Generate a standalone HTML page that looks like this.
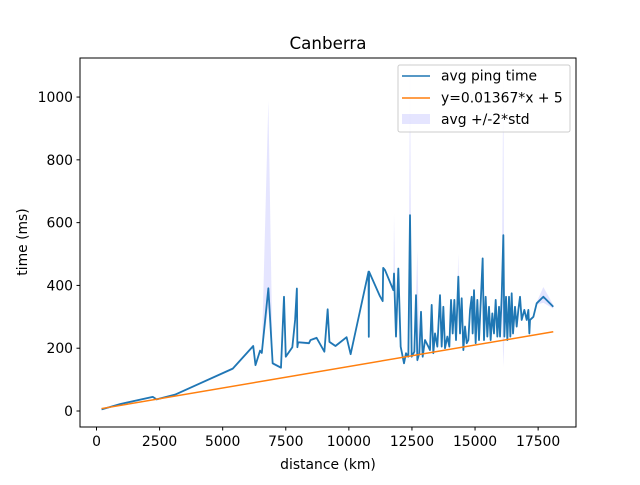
<!DOCTYPE html>
<html><head><meta charset="utf-8"><style>
body{margin:0;background:#fff;}
svg text{font-family:"DejaVu Sans","Liberation Sans",sans-serif;}
</style></head><body>
<svg id="chart" width="640" height="480" viewBox="0 0 640 480" xmlns="http://www.w3.org/2000/svg">
<rect width="640" height="480" fill="#fff"/>
<text x="328" y="49" font-size="16.7" text-anchor="middle">Canberra</text>
<g id="band"></g>
<g id="lines"></g>
<rect x="80" y="58" width="496" height="369" fill="none" stroke="#000" stroke-width="1"/>
<g id="xticks"></g>
<g id="yticks"></g>
<text x="328" y="469" font-size="13.9" text-anchor="middle">distance (km)</text>
<text transform="translate(27,242) rotate(-90)" font-size="13.9" text-anchor="middle">time (ms)</text>
<g>
<rect x="398" y="65" width="172" height="67" rx="2" fill="#fff" fill-opacity="0.8" stroke="#ccc"/>
<line x1="402" y1="76" x2="430" y2="76" stroke="#1f77b4" stroke-width="1.5"/>
<text x="441" y="80.5" font-size="13.9">avg ping time</text>
<line x1="402" y1="98" x2="430" y2="98" stroke="#ff7f0e" stroke-width="1.5"/>
<text x="441" y="102.5" font-size="13.9">y=0.01367*x + 5</text>
<rect x="402" y="114" width="28" height="10" fill="#0000ff" fill-opacity="0.1"/>
<text x="441" y="124" font-size="13.9">avg +/-2*std</text>
</g>
</svg>
<script>
const distances=[200,930,2230,2380,3110,5400,6210,6300,6480,6550,6810,6980,7310,7430,7500,7760,7870,7940,7960,7990,8420,8480,8720,9030,9160,9230,9470,9910,10070,10780,10790,10800,11230,11340,11360,11432,11762,11789,11868,11960,12053,12185,12264,12357,12423,12489,12595,12661,12714,12793,12859,12925,13017,13150,13215,13282,13347,13414,13506,13612,13678,13744,13810,13903,13982,14048,14114,14180,14246,14338,14405,14471,14537,14603,14669,14735,14801,14867,14906,14959,15025,15091,15157,15223,15302,15355,15421,15487,15553,15619,15685,15751,15818,15884,15950,15990,16056,16122,16162,16228,16280,16346,16399,16452,16505,16584,16650,16716,16782,16848,16954,17047,17113,17153,17179,17312,17443,17707,18100];
const avgPing=[5,22,45,37,52,135,207,146,192,185,391,152,138,364,173,203,290,390,203,219,216,226,233,189,324,220,207,235,181,444,236,444,366,350,456,449,385,438,237,454,205,152,184,173,624,173,189,369,162,184,316,173,226,205,194,338,184,247,205,369,205,332,200,237,205,354,247,354,226,428,247,359,194,269,216,226,322,364,247,385,216,354,226,343,486,226,364,237,332,226,311,247,354,237,332,237,364,560,237,364,226,364,237,375,247,332,269,322,364,290,322,290,322,247,290,300,343,364,332];
// band upper / lower (ms), i.e. avg +/- 2*std
const bandHi=[8,25,48,40,55,139,212,150,198,190,990,157,142,368,177,207,294,394,207,223,220,230,237,193,328,224,211,239,185,448,240,448,370,354,460,453,389,630,241,458,209,156,188,177,1200,177,193,373,513,188,320,177,230,209,198,342,188,251,209,373,209,336,204,241,209,358,251,358,230,502,251,363,198,273,220,230,326,368,251,389,220,358,230,347,490,230,368,241,336,230,315,251,358,241,336,241,368,1100,241,368,230,368,241,379,251,336,273,326,368,294,326,294,326,251,294,304,347,395,338];
const bandLo=[2,19,42,34,49,131,202,142,186,180,330,147,134,360,169,199,286,386,199,215,212,222,229,185,320,216,203,231,177,440,232,440,362,346,452,445,381,380,233,450,201,148,180,169,300,169,185,365,150,180,312,169,222,201,190,334,180,243,201,365,201,328,196,233,201,350,243,350,222,400,243,355,190,265,212,222,318,360,243,381,212,350,222,339,482,222,360,233,328,222,307,243,350,233,328,233,360,140,233,360,222,360,233,371,243,328,265,318,360,286,318,286,318,243,286,296,339,345,326];
const xTicks=[0,2500,5000,7500,10000,12500,15000,17500];
const yTicks=[0,200,400,600,800,1000];
const fitSlope=0.01367, fitIntercept=5, fitRange=[200,18100];
const NS="http://www.w3.org/2000/svg";
const X=v=>96.5+v*0.025236;
const Y=v=>411-v*0.31395;
function mk(tag,attrs,parent){const e=document.createElementNS(NS,tag);for(const k in attrs)e.setAttribute(k,attrs[k]);parent.appendChild(e);return e;}
let up=distances.map((d,i)=>X(d).toFixed(2)+","+Math.max(58,Y(bandHi[i])).toFixed(2));
let lo=distances.map((d,i)=>X(d).toFixed(2)+","+Math.min(427,Y(bandLo[i])).toFixed(2)).reverse();
const band=mk("polygon",{points:up.concat(lo).join(" "),fill:"#0000ff","fill-opacity":"0.1"},document.getElementById("band"));


const lines=document.getElementById("lines");
const avg=mk("polyline",{points:distances.map((d,i)=>X(d).toFixed(2)+","+Y(avgPing[i]).toFixed(2)).join(" "),fill:"none",stroke:"#1f77b4","stroke-width":"1.8","stroke-linejoin":"round"},lines);


const fit=mk("line",{x1:X(fitRange[0]),y1:Y(fitSlope*fitRange[0]+fitIntercept),x2:X(fitRange[1]),y2:Y(fitSlope*fitRange[1]+fitIntercept),stroke:"#ff7f0e","stroke-width":"1.5"},lines);


const xg=document.getElementById("xticks");
xTicks.forEach(t=>{const x=X(t);
 const l=mk("line",{x1:x,y1:427,x2:x,y2:430.5,stroke:"#000"},xg);
 
 
 const tx=mk("text",{x:x,y:446,"font-size":"13.9","text-anchor":"middle"},xg);tx.textContent=t;
 
 
});
const yg=document.getElementById("yticks");
yTicks.forEach(t=>{const y=Y(t);
 const l=mk("line",{x1:76.5,y1:y,x2:80,y2:y,stroke:"#000"},yg);
 
 
 const tx=mk("text",{x:73,y:y+5,"font-size":"13.9","text-anchor":"end"},yg);tx.textContent=t;
 
 
});
</script>
</body></html>
